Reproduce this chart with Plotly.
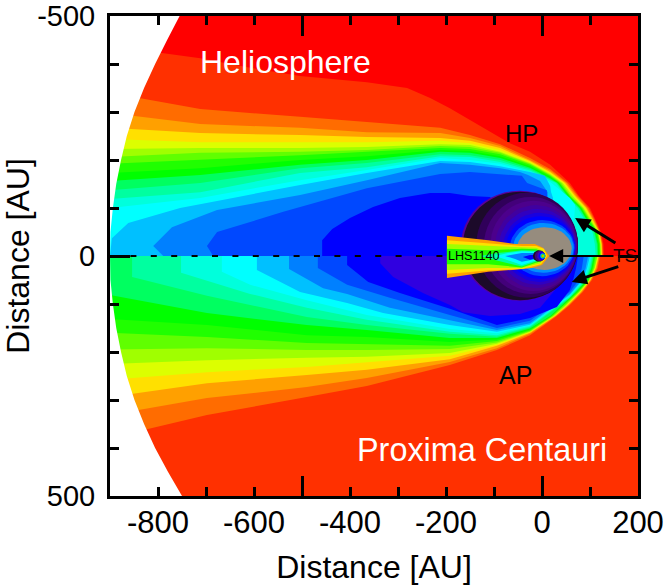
import plotly.graph_objects as go
import math

# ---- colour levels, outermost to innermost ----
levels = ["#ff0000", "#ff3000", "#ff6c00", "#ffa000", "#ffe000", "#dcff00", "#a0ff00", "#60ff00", "#20ff00",
          "#00ff00", "#00ff60", "#00ffa0", "#00ffdc", "#00ffff", "#00c0ff", "#0080ff", "#0048ff", "#0000ff", "#3000e0"]

sx = [-900, -712, -504, -365, -212, -150, -87, -25, 17]
nose_y = [-152, -125, -100, -75, -50, -25, 0]
# ---- Heliosphere (upper half) contour lines, [AU] ----
upper_x = [
    [-900, -792, -712, -608, -504, -365, -281, -233, -192, -150, -108, -67, -25, 17, 58, 77, 100, 112, 123, 128, 129],
    sx + [54, 75, 97, 110, 121, 126, 127],
    sx + [51, 72, 94, 108, 120, 125, 126],
    sx + [48, 69, 92, 106, 119, 124, 125],
    sx + [46, 67, 90, 104, 118, 123, 124],
    sx + [43, 64, 87, 102, 117, 122, 123],
    sx + [40, 60, 85, 100, 116, 121, 122],
    sx + [37, 58, 83, 98, 115, 120, 121],
    sx + [35, 56, 81, 96, 112, 118, 119],
    sx + [33, 54, 79, 94, 110, 116, 117],
    sx + [31, 52, 77, 92, 108, 114, 115],
    sx + [29, 49, 74, 89, 105, 110, 112],
    [-900, -712, -504, -365, -212, -150, -87, -25, 17, 58, 69, 67, 37],
    [-900, -896, -862, -754, -644, -504, -365, -212, -150, -87, -25, 6, 17, 19, 23, 17],
    [-789, -810, -771, -677, -504, -365, -212, -150, -87, -46, -29, -4, 12, 6],
    [-685, -698, -677, -539, -365, -212, -150, -67, -42, -31, 10, 12, -25],
    [-458, -458, -437, -400, -352, -296, -233, -192, -150, -108, -87, -87],
]
upper_y = [
    [-430, -423, -412, -392, -375, -362, -350, -329, -308, -283, -258, -235, -217, -190] + nose_y,
    [-340, -306, -290, -279, -267, -252, -233, -204, -181] + nose_y,
    [-298, -275, -267, -258, -256, -246, -229, -200, -178] + nose_y,
    [-267, -256, -252, -248, -246, -240, -225, -198, -175] + nose_y,
    [-244, -237, -237, -237, -240, -235, -221, -196, -173] + nose_y,
    [-223, -225, -225, -227, -233, -231, -217, -194, -171] + nose_y,
    [-206, -215, -217, -221, -229, -227, -215, -192, -169] + nose_y,
    [-192, -200, -210, -217, -225, -223, -212, -190, -167] + nose_y,
    [-173, -183, -200, -208, -221, -219, -208, -187, -165] + nose_y,
    [-156, -169, -190, -200, -217, -215, -204, -184, -162] + nose_y,
    [-137, -152, -183, -194, -212, -210, -200, -181, -160] + nose_y,
    [-119, -133, -173, -185, -208, -206, -196, -178, -158] + nose_y,
    [-100, -121, -158, -179, -204, -200, -192, -175, -154, -121, -106, -79, 0],
    [0, -37, -69, -100, -121, -148, -173, -198, -196, -187, -175, -167, -146, -133, -121, 0],
    [0, -21, -60, -96, -127, -158, -194, -190, -183, -175, -169, -156, -133, 0],
    [0, -21, -50, -92, -141, -171, -175, -169, -167, -152, -137, -106, 0],
    [0, -33, -56, -79, -102, -121, -131, -131, -125, -123, -96, 0],
]

lx = [-900, -698, -490, -365, -192, -94, -25]
tail_rows = [125, 102, 75, 50, 25, 0]
# ---- Proxima Centauri (lower half) contour lines, [AU] ----
lower_x = [
    lx + [31, 58, 85, 104, 116, 121],
    lx + [29, 56, 83, 102, 114, 119],
    lx + [27, 54, 81, 101, 112, 118],
    lx + [26, 52, 79, 100, 111, 117],
    lx + [25, 51, 78, 99, 110, 116],
    lx + [23, 49, 77, 98, 109, 115],
    lx + [21, 46, 75, 97, 107, 112],
    lx + [19, 44, 73, 96, 105, 110],
    lx + [17, 42, 71, 94, 103, 108],
    [-854, -854, -698, -608, -490, -365, -192, -94, -25, 58, 92, 101, 106],
    [-752, -752, -608, -490, -365, -192, -94, -25, 58, 90, 99, 104],
    [-667, -667, -608, -490, -365, -192, -94, -25, 58, 87, 96, 102],
    [-594, -594, -504, -406, -331, -192, -94, -25, 58, 85, 94, 100],
    [-527, -527, -456, -406, -317, -192, -94, -25, 58, 83, 91, 96],
    [-467, -467, -406, -317, -192, -94, -25, 58, 77, 83, 87],
    [-406, -406, -362, -296, -192, -94, -25, 31, 58, 65, 71, 75],
    [-337, -337, -310, -248, -192, -165, -108, -46, -4, 27, 27],
]
lower_y = [
    [379, 331, 294, 271, 227, 196, 165] + tail_rows,
    [331, 296, 273, 254, 221, 192, 162] + tail_rows,
    [294, 265, 248, 237, 215, 187, 160] + tail_rows,
    [258, 242, 231, 221, 208, 185, 159] + tail_rows,
    [225, 217, 212, 210, 202, 183, 158] + tail_rows,
    [195, 192, 196, 196, 194, 180, 157] + tail_rows,
    [160, 169, 181, 183, 187, 177, 155] + tail_rows,
    [131, 144, 165, 169, 179, 174, 153] + tail_rows,
    [81, 119, 144, 154, 171, 171, 151] + tail_rows,
    [0, 44, 83, 102, 127, 144, 162, 168, 149, 87, 50, 25, 0],
    [0, 35, 79, 108, 133, 158, 165, 147, 85, 50, 25, 0],
    [0, 33, 60, 92, 123, 152, 161, 145, 83, 50, 25, 0],
    [0, 29, 75, 98, 119, 144, 158, 143, 81, 50, 25, 0],
    [0, 27, 67, 79, 108, 133, 154, 140, 79, 50, 25, 0],
    [0, 25, 60, 87, 123, 150, 135, 75, 50, 25, 0],
    [0, 19, 54, 77, 110, 144, 129, 106, 71, 50, 25, 0],
    [0, 15, 44, 77, 102, 117, 125, 121, 108, 71, 0],
]

# ---- edge of the simulated domain ----
edge_y = [-500, -450, -400, -350, -300, -250, -200, -150, -100, -50, 0, 50, 100, 150, 200, 250, 300, 350, 400, 450, 500]
edge_x = [-755, -781, -806, -829, -849, -865, -877, -887, -894, -899, -900, -899, -894, -887, -877, -865, -849, -829, -806, -779, -750]

# ---- inner astrosphere rings: left, right, top, bottom [AU] ----
ring_l = [-169, -165, -137, -121, -108, -98, -90, -81, -75, -67, -60, -52]
ring_r = [75, 75, 75, 74, 73, 72, 71, 70, 69, 68, 66, 62]
ring_t = [-136, -134, -132, -123, -115, -106, -98, -90, -83, -75, -69, -60]
ring_b = [93, 92, 87, 79, 73, 67, 60, 54, 48, 42, 35, 29]
ring_c = ["#5a0098", "#1c0a2a", "#30005a", "#43007a", "#4c008c", "#4000a0", "#3000c0", "#1800e0", "#0000ff", "#0048ff", "#0090ff", "#968c7e"]

# ---- LHS1140 inset tail ----
tail_x = [
    [-198, -112, -56, -15, 2, 15, 0, -21, -62, -112, -198],
    [-198, -112, -42, -12, 4, 11, -2, -25, -42, -112, -198],
    [-198, -112, -42, -12, 2, 8, -4, -42, -112, -198],
    [-198, -112, -42, -12, 2, 6, -6, -42, -112, -198],
    [-129, -92, -42, -12, 2, 5, -8, -42, -92],
    [-98, -71, -42, -12, 2, -12, -42, -71],
    [-77, -56, -42, -12, -2, -12, -42, -56],
    [-40, -25, -12, -4, -12, -25],
]
tail_y = [
    [-42, -33, -25, -25, -17, 0, 19, 25, 29, 33, 46],
    [-33, -27, -21, -21, -15, 0, 17, 23, 27, 30, 37],
    [-25, -21, -18, -17, -11, 0, 15, 25, 25, 29],
    [-15, -12, -15, -14, -8, 0, 12, 24, 17, 17],
    [0, -6, -12, -11, -6, 0, 10, 22, 10],
    [0, -6, -10, -9, 0, 9, 19, 9],
    [0, -4, -6, -6, 0, 6, 12, 6],
    [2, -2, -2, 0, 4, 8],
]
tail_c = ["#ffa000", "#ffe000", "#a0ff00", "#20ff00", "#00ffa0", "#00ffff", "#0080ff", "#0000ff"]

head_l = [-19, -15, -10, -7, -4, -2, -1, 0]
head_r = [6, 6, 6, 7, 7, 6, 4, 3]
head_t = [-12, -11, -10, -8, -6, -4, -2, -1]
head_b = [12, 11, 10, 8, 6, 4, 2, 1]
head_c = ["#1c0a2a", "#43007a", "#4000c0", "#0000ff", "#00a0ff", "#20ff00", "#ffe000", "#ff0000"]

x_ticks = [-800, -700, -600, -500, -400, -300, -200, -100, 0, 100, 200]
x_text = ["-800", "", "-600", "", "-400", "", "-200", "", "0", "", "200"]
y_ticks = [-500, -400, -300, -200, -100, 0, 100, 200, 300, 400, 500]
y_text = ["-500", "", "", "", "", "0", "", "", "", "", "500"]

FONT = "Liberation Sans"
fig = go.Figure()


def poly(x, y, color):
    fig.add_trace(go.Scatter(x=x, y=y, mode="lines", fill="toself", fillcolor=color,
                             line=dict(width=0, color=color), hoverinfo="skip", showlegend=False))


def band(x, y, color):
    x, y = list(x), list(y)
    if y[0] != 0:
        x.append(x[0]); y.append(0)
    poly(x, y, color)


def oval(l, r, t, b, color):
    cx, cy, rx, ry = (l + r) / 2, (t + b) / 2, (r - l) / 2, (b - t) / 2
    a = [i * math.pi / 24 for i in range(48)]
    poly([cx + rx * math.cos(v) for v in a], [cy + ry * math.sin(v) for v in a], color)


poly([-900, 200, 200, -900], [-500, -500, 0, 0], levels[0])
poly([-900, 200, 200, -900], [0, 0, 500, 500], levels[1])
for i, (x, y) in enumerate(zip(upper_x, upper_y)):
    band(x, y, levels[i + 1])
for i, (x, y) in enumerate(zip(lower_x, lower_y)):
    band(x, y, levels[i + 2])
poly([-910] + edge_x + [-910], [-500] + edge_y + [500], "#ffffff")
for l, r, t, b, c in zip(ring_l, ring_r, ring_t, ring_b, ring_c):
    oval(l, r, t, b, c)
for x, y, c in zip(tail_x, tail_y, tail_c):
    poly(x, y, c)
for l, r, t, b, c in zip(head_l, head_r, head_t, head_b, head_c):
    oval(l, r, t, b, c)
fig.add_trace(go.Scatter(x=[-900, -198], y=[0, 0], mode="lines", hoverinfo="skip", showlegend=False,
                         line=dict(color="#000000", width=2, dash="6px,14.4px")))


def label(text, x, y, size, color="#000000"):
    fig.add_annotation(text=text, x=x, y=y, xref="x", yref="y", showarrow=False,
                       font=dict(family=FONT, size=size, color=color))


def arrow(x0, y0, x1, y1, w):
    fig.add_annotation(x=x1, y=y1, ax=x0, ay=y0, xref="x", yref="y", axref="x", ayref="y", text="",
                       showarrow=True, arrowhead=2, arrowsize=1 if w > 2 else 1.4, arrowwidth=w, arrowcolor="#000000", standoff=0)


arrow(156, -25, 69, -79, 3)
arrow(162, 21, 62, 54, 3)
arrow(152, 0, 15, 0, 2)
label("Heliosphere", -535, -404, 32, "#ffffff")
label("Proxima Centauri", -125, 404, 32.4, "#ffffff")
label("HP", -42, -256, 24)
label("AP", -56, 248, 25)
label("TS", 173, -2, 19, "#200000")
label("LHS1140", -142, 0, 12.6)

axis = dict(showgrid=False, zeroline=False, showline=True, linecolor="#000000", linewidth=3, mirror="allticks",
            ticks="inside", ticklen=9, tickwidth=3, tickcolor="#000000", automargin=False, tickmode="array")
fig.update_layout(
    width=665, height=587, autosize=False, margin=dict(l=110, r=27, t=16, b=91),
    paper_bgcolor="#ffffff", plot_bgcolor="#ffffff", showlegend=False,
    xaxis=dict(range=[-900, 200], tickvals=x_ticks, ticktext=x_text, ticklabelstandoff=-3,
               tickfont=dict(family=FONT, size=31, color="#000000"),
               title=dict(text="Distance [AU]", standoff=17, font=dict(family=FONT, size=32, color="#000000")),
               minor=dict(tickmode="array", tickvals=[-500, 0], ticks="inside", ticklen=20, tickwidth=3, tickcolor="#000000"), **axis),
    yaxis=dict(range=[500, -500], tickvals=y_ticks, ticktext=y_text, ticklabelstandoff=6,
               tickfont=dict(family=FONT, size=29, color="#000000"),
               title=dict(text="Distance [AU]", standoff=9, font=dict(family=FONT, size=32, color="#000000")),
               minor=dict(tickmode="array", tickvals=[-500, 0, 500], ticks="inside", ticklen=20, tickwidth=3, tickcolor="#000000"), **axis),
)
fig.write_html("out.html", post_script="document.body.style.margin='0';", config={"displayModeBar": False})
